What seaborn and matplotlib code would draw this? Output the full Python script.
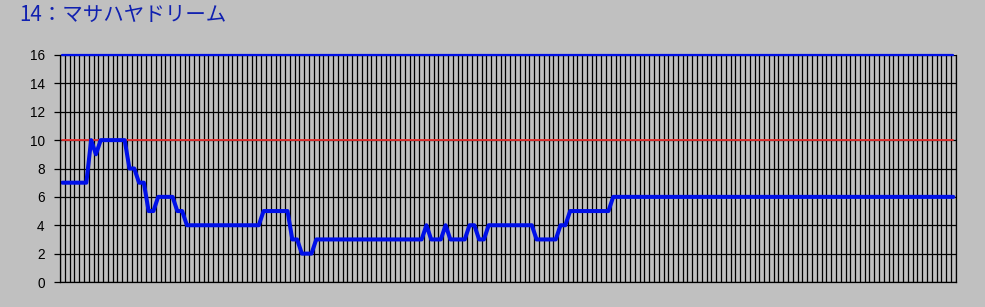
import numpy as np
import pandas as pd
import matplotlib
matplotlib.use("Agg")
import matplotlib.pyplot as plt
import seaborn as sns

title_text = "14：マサハヤドリーム"

rank = [
    7, 7, 7, 7, 7, 7, 10, 9, 10, 10, 10, 10, 10, 10, 8, 8, 7, 7, 5, 5,
    6, 6, 6, 6, 5, 5, 4, 4, 4, 4, 4, 4, 4, 4, 4, 4, 4, 4, 4, 4,
    4, 4, 5, 5, 5, 5, 5, 5, 3, 3, 2, 2, 2, 3, 3, 3, 3, 3, 3, 3,
    3, 3, 3, 3, 3, 3, 3, 3, 3, 3, 3, 3, 3, 3, 3, 3, 4, 3, 3, 3,
    4, 3, 3, 3, 3, 4, 4, 3, 3, 4, 4, 4, 4, 4, 4, 4, 4, 4, 4, 3,
    3, 3, 3, 3, 4, 4, 5, 5, 5, 5, 5, 5, 5, 5, 5, 6, 6, 6, 6, 6,
    6, 6, 6, 6, 6, 6, 6, 6, 6, 6, 6, 6, 6, 6, 6, 6, 6, 6, 6, 6,
    6, 6, 6, 6, 6, 6, 6, 6, 6, 6, 6, 6, 6, 6, 6, 6, 6, 6, 6, 6,
    6, 6, 6, 6, 6, 6, 6, 6, 6, 6, 6, 6, 6, 6, 6, 6, 6, 6, 6, 6,
    6, 6, 6, 6, 6, 6, 6,
]
field_size = 16
threshold = 10
y_ticks = [0, 2, 4, 6, 8, 10, 12, 14, 16]

n = len(rank)
df = pd.DataFrame({
    "step": np.arange(n),
    "rank": rank,
    "field": [field_size] * n,
    "threshold": [threshold] * n,
})

sns.set_style("white", {"axes.facecolor": "#c0c0c0", "figure.facecolor": "#c0c0c0"})
plt.rcParams["font.family"] = ["Liberation Sans", "DejaVu Sans"]

fig = plt.figure(figsize=(9.85, 3.07), dpi=100, facecolor="#c0c0c0")
ax = fig.add_axes([60 / 985, 25 / 307, 895.7 / 985, 227 / 307])
ax.set_facecolor("#c0c0c0")

# grid
ax.set_xticks(np.arange(-0.5, n, 1.0))
ax.set_yticks(y_ticks)
ax.grid(True, color="black", linewidth=0.9)
ax.set_axisbelow(True)

sns.lineplot(data=df, x="step", y="threshold", ax=ax, color="#e8302f", linewidth=1.3)
sns.lineplot(data=df, x="step", y="field", ax=ax, color="#0010e8", linewidth=1.6)
sns.lineplot(data=df, x="step", y="rank", ax=ax, color="#0010e8", linewidth=2.9)
for ln in ax.lines:
    ln.set_clip_on(False)

ax.set_xlim(-0.5, n - 0.5)
ax.set_ylim(0, 16)
ax.set_xlabel("")
ax.set_ylabel("")
ax.set_xticklabels([])
ax.tick_params(axis="x", length=0)
ax.tick_params(axis="y", length=4, width=0.9, color="black", pad=7, labelsize=9.8, labelcolor="black", direction="out", left=True)
for s in ["left", "right", "bottom"]:
    ax.spines[s].set_visible(True)
    ax.spines[s].set_color("black")
    ax.spines[s].set_linewidth(0.9)
ax.spines["top"].set_visible(False)

fig.text(19 / 985, 1 - 15 / 307, title_text, color="#1020b0", fontsize=14.8,
         family=["Noto Sans CJK JP", "DejaVu Sans"], va="center", ha="left")

fig.savefig("out.png", dpi=100, facecolor="#c0c0c0")
